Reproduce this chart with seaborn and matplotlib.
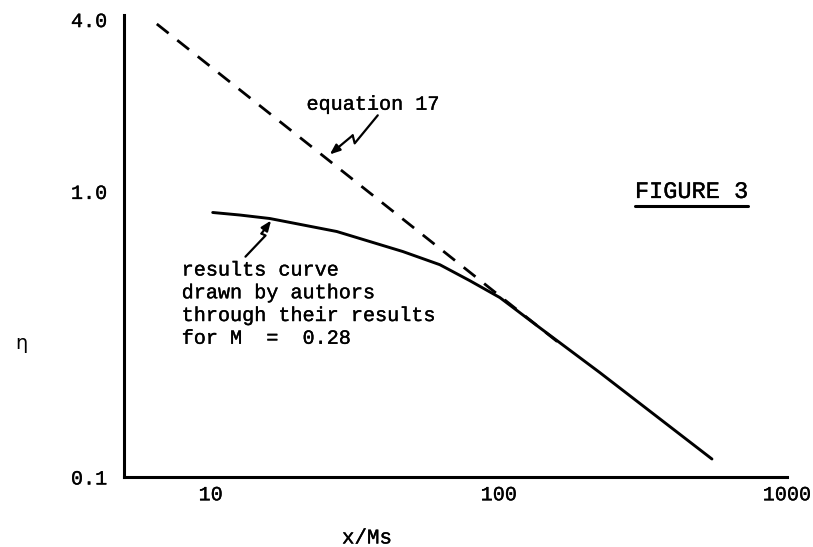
import matplotlib
matplotlib.use("Agg")
import matplotlib.pyplot as plt
import matplotlib.patheffects as pe
from matplotlib.lines import Line2D
import seaborn as sns
import pandas as pd

# Results curve (authors' fit through their results, M = 0.28)
results_x = [10.16, 12.61, 16.03, 27.38, 46.42, 62.39, 79.3, 100.8, 138.8, 224.2, 549]
results_eta = [0.844, 0.827, 0.804, 0.724, 0.616, 0.554, 0.487, 0.425, 0.333, 0.232, 0.1156]

# Equation 17 (straight line on log-log axes)
eq17_x = [6.5, 165]
eq17_eta = [3.86, 0.290]

# Axis ticks
x_ticks = [10, 100, 1000]
x_tick_labels = ["10", "100", "1000"]
y_ticks = [0.1, 1.0, 4.0]
y_tick_labels = ["0.1", "1.0", "4.0"]

# Lightning-bolt leader lines (data coordinates, ending at the arrow tip)
eq17_leader_x = [38.0, 31.6, 31.1, 25.9]
eq17_leader_eta = [1.848, 1.474, 1.572, 1.348]
results_leader_x = [13.2, 15.5, 15.0, 16.2]
results_leader_eta = [0.591, 0.701, 0.712, 0.791]

sns.set_theme(style="white")
plt.rcParams["font.family"] = ["Liberation Mono", "DejaVu Sans"]
plt.rcParams["text.color"] = "black"
plt.rcParams["axes.labelcolor"] = "black"

# Slightly heavier strokes for the typed lettering
ink = [pe.withStroke(linewidth=0.25, foreground="black")]

fig = plt.figure(figsize=(8.13, 5.47), dpi=100)
ax = fig.add_axes([0.1525, 0.128, 0.8155, 0.8446])

res_df = pd.DataFrame({"x": results_x, "eta": results_eta})
eq_df = pd.DataFrame({"x": eq17_x, "eta": eq17_eta})

sns.lineplot(data=eq_df, x="x", y="eta", ax=ax, color="black", lw=2.0,
             linestyle=(0, (5.4, 4.0)), sort=False)
sns.lineplot(data=res_df, x="x", y="eta", ax=ax, color="black", lw=2.1,
             sort=False)

ax.set_xscale("log")
ax.set_yscale("log")
ax.set_xlim(5, 1000)
ax.set_ylim(0.1, 4.15)

ax.set_xticks(x_ticks)
ax.set_xticklabels(x_tick_labels)
ax.set_yticks(y_ticks)
ax.set_yticklabels(y_tick_labels)
ax.minorticks_off()

ax.tick_params(axis="x", direction="in", length=11, width=2.2, pad=6,
               labelsize=14.5, colors="black")
ax.tick_params(axis="y", direction="in", length=11, width=2.2, pad=12,
               labelsize=14.5, colors="black")
for lbl in ax.get_xticklabels() + ax.get_yticklabels():
    lbl.set_path_effects(ink)

for side in ("top", "right"):
    ax.spines[side].set_visible(False)
for side in ("left", "bottom"):
    ax.spines[side].set_linewidth(2.2)
    ax.spines[side].set_color("black")

ax.set_xlabel("x/Ms", fontsize=15, va="center", path_effects=ink)
ax.xaxis.set_label_coords(0.3665, -0.132)
ax.set_ylabel("η", rotation=0, fontsize=14, family=["DejaVu Sans"],
              va="center", ha="center")
ax.yaxis.set_label_coords(-0.155, 0.29)

# Annotations
ax.text(21.5, 2.02, "equation 17", fontsize=14.5, ha="left", va="center",
        path_effects=ink)
ax.text(7.93, 0.403,
        "results curve\ndrawn by authors\nthrough their results\nfor M  =  0.28",
        fontsize=14.5, ha="left", va="center", linespacing=1.25,
        path_effects=ink)
fig_label = ax.text(296.6, 1.0, "FIGURE 3", fontsize=17, ha="left",
                    va="center", path_effects=ink)

for lx, ly in ((eq17_leader_x, eq17_leader_eta),
               (results_leader_x, results_leader_eta)):
    ax.plot(lx[:-1], ly[:-1], color="black", lw=1.6, solid_capstyle="round")
    ax.annotate("", xy=(lx[-1], ly[-1]), xytext=(lx[-2], ly[-2]),
                arrowprops=dict(arrowstyle="-|>,head_length=0.5,head_width=0.2",
                                color="black", lw=1.6, shrinkA=0, shrinkB=0))

# Underline the figure title
fig.canvas.draw()
bb = fig_label.get_window_extent()
inv = fig.transFigure.inverted()
(x0, y0), (x1, _) = inv.transform([(bb.x0, bb.y0 - 3), (bb.x1, bb.y0 - 3)])
fig.add_artist(Line2D([x0, x1], [y0, y0], color="black", lw=2.2,
                      transform=fig.transFigure))

fig.savefig("out.png", dpi=100, facecolor="white")
